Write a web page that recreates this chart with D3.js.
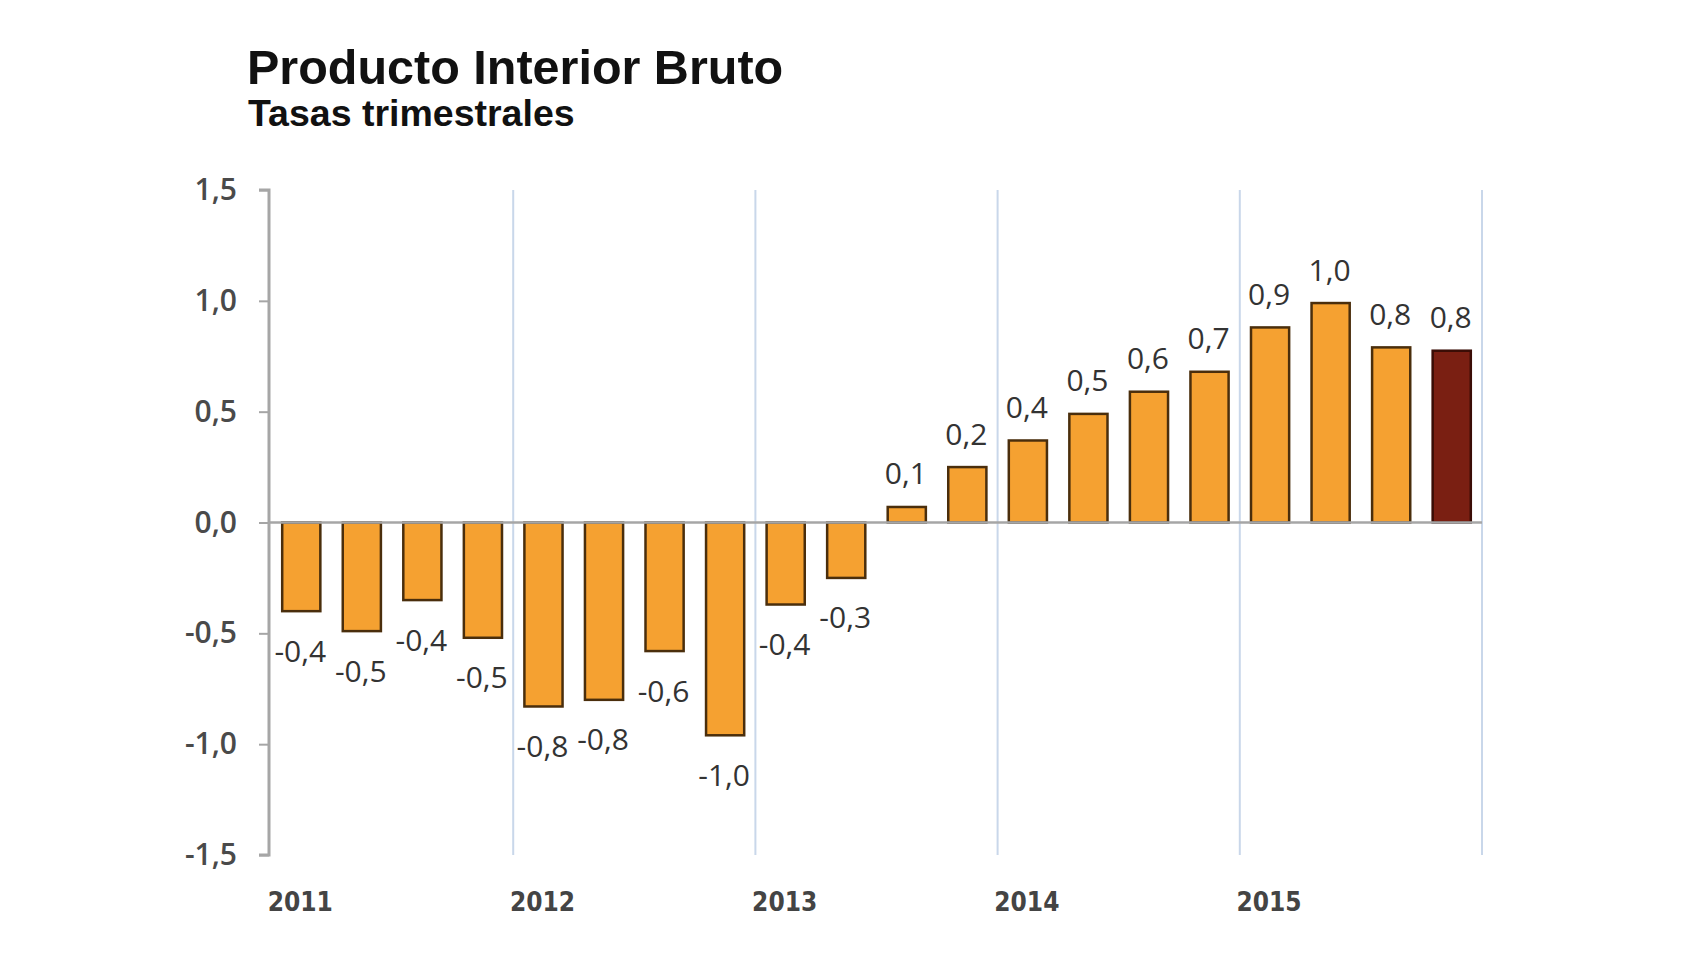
<!DOCTYPE html>
<html>
<head>
<meta charset="utf-8">
<script src="https://cdn.jsdelivr.net/npm/d3@7"></script>
<style>
  html, body { margin: 0; padding: 0; background: #fff; }
  svg { display: block; }
</style>
</head>
<body>
<svg id="chart" width="1706" height="960"></svg>
<script>
// ---- data ----
const quarters = [
  "2011T1","2011T2","2011T3","2011T4",
  "2012T1","2012T2","2012T3","2012T4",
  "2013T1","2013T2","2013T3","2013T4",
  "2014T1","2014T2","2014T3","2014T4",
  "2015T1","2015T2","2015T3","2015T4"
];
const values = [
  -0.40, -0.49, -0.35, -0.52,
  -0.83, -0.80, -0.58, -0.96,
  -0.37, -0.25, 0.07, 0.25,
  0.37, 0.49, 0.59, 0.68,
  0.88, 0.99, 0.79, 0.775
];
const valueLabels = [
  "-0,4","-0,5","-0,4","-0,5",
  "-0,8","-0,8","-0,6","-1,0",
  "-0,4","-0,3","0,1","0,2",
  "0,4","0,5","0,6","0,7",
  "0,9","1,0","0,8","0,8"
];
const years = [2011, 2012, 2013, 2014, 2015];
const yTicks = [-1.5, -1.0, -0.5, 0.0, 0.5, 1.0, 1.5];
const titleText = "Producto Interior Bruto";
const subtitleText = "Tasas trimestrales";

// ---- layout ----
const svg = d3.select("#chart");
const plotLeft = 269, plotRight = 1480, plotTop = 190, plotBottom = 855;

const x = d3.scaleBand().domain(quarters).range([plotLeft, plotRight])
  .paddingInner(0.37).paddingOuter(0.185);
const xYear = d3.scaleLinear().domain([2011, 2016]).range([plotLeft, plotRight]);
const y = d3.scaleLinear().domain([-1.5, 1.5]).range([plotBottom, plotTop]);

// title
svg.append("text").attr("x", 247).attr("y", 84)
  .attr("font-family", "Liberation Sans, Arial, sans-serif")
  .attr("font-weight", "bold").attr("font-size", 48.5).attr("fill", "#111")
  .text(titleText);
svg.append("text").attr("x", 248).attr("y", 126)
  .attr("font-family", "Liberation Sans, Arial, sans-serif")
  .attr("font-weight", "bold").attr("font-size", 37.5).attr("fill", "#111")
  .text(subtitleText);

// vertical year gridlines
svg.append("g").selectAll("line")
  .data(years.slice(1).concat([2016]))
  .join("line")
  .attr("x1", d => xYear(d) + 2).attr("x2", d => xYear(d) + 2)
  .attr("y1", y(1.5)).attr("y2", y(-1.5))
  .attr("stroke", "#c9d7ea").attr("stroke-width", 2);

// y axis
const yAxis = d3.axisLeft(y).tickValues(yTicks)
  .tickSize(10).tickPadding(22)
  .tickFormat(d => d3.format(".1f")(d).replace(".", ",").replace("−", "-"));
const ga = svg.append("g").attr("transform", `translate(${plotLeft},0)`).call(yAxis);
ga.select(".domain").attr("stroke", "#a6a6a6").attr("stroke-width", 3)
  .attr("d", `M-10,${y(1.5)}H0V${y(-1.5)}H-10`);
ga.selectAll(".tick line").attr("stroke", "#a6a6a6").attr("stroke-width", 2);
ga.selectAll(".tick text")
  .attr("font-family", "Open Sans, sans-serif").attr("font-size", 30)
  .attr("font-weight", 600).attr("fill", "#4a4a4a");

// bars
svg.append("g").selectAll("rect")
  .data(values)
  .join("rect")
  .attr("x", (d, i) => x(quarters[i]) + 2)
  .attr("width", x.bandwidth())
  .attr("y", d => y(Math.max(0, d)))
  .attr("height", d => Math.abs(y(d) - y(0)))
  .attr("fill", (d, i) => i === values.length - 1 ? "#7a1f12" : "#f5a131")
  .attr("stroke", (d, i) => i === values.length - 1 ? "#3a0d06" : "#4a2e0c")
  .attr("stroke-width", 2.5);

// zero line
svg.append("line")
  .attr("x1", plotLeft).attr("x2", plotRight + 2)
  .attr("y1", y(0)).attr("y2", y(0))
  .attr("stroke", "#a6a6a6").attr("stroke-width", 2.5);

// data labels
svg.append("g").selectAll("text")
  .data(values)
  .join("text")
  .attr("x", (d, i) => x(quarters[i]) + x.bandwidth() / 2 + 1)
  .attr("y", d => d >= 0 ? y(d) - 34 : y(d) + 39)
  .attr("text-anchor", "middle").attr("dominant-baseline", "central")
  .attr("font-family", "Open Sans, sans-serif").attr("font-size", 30)
  .attr("fill", "#333")
  .text((d, i) => valueLabels[i]);

// year labels
svg.append("g").selectAll("text")
  .data(years)
  .join("text")
  .attr("x", d => xYear(d + 0.125) + 1)
  .attr("y", 911)
  .attr("text-anchor", "middle")
  .attr("font-family", "DejaVu Sans Condensed, DejaVu Sans, sans-serif")
  .attr("font-weight", "bold").attr("font-size", 26)
  .attr("fill", "#444")
  .text(d => d);
</script>
</body>
</html>
